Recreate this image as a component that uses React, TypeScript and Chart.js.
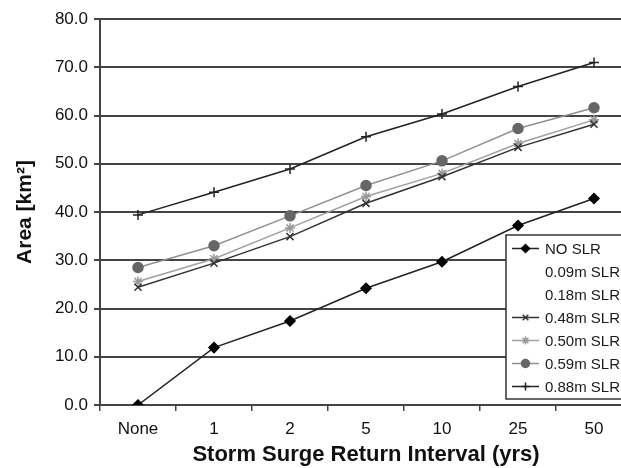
import React, { useEffect, useRef } from 'react';
import { Chart, registerables } from 'chart.js';
import { drawPoint } from 'chart.js/helpers';

Chart.register(...registerables);

const categories = ['None', '1', '2', '5', '10', '25', '50'];
const noSlr = [0, 11.9, 17.4, 24.2, 29.7, 37.2, 42.8];
const slr009: (number | null)[] = [];
const slr018: (number | null)[] = [];
const slr048 = [24.4, 29.4, 34.9, 41.8, 47.3, 53.4, 58.2];
const slr050 = [25.6, 30.3, 36.7, 43.2, 48.0, 54.2, 59.1];
const slr059 = [28.5, 33.0, 39.2, 45.5, 50.6, 57.3, 61.6];
const slr088 = [39.4, 44.1, 48.9, 55.6, 60.3, 66.0, 71.0];
const seriesLabels = ['NO SLR', '0.09m SLR', '0.18m SLR', '0.48m SLR', '0.50m SLR', '0.59m SLR', '0.88m SLR'];
const yMin = 0;
const yMax = 80;
const yStep = 10;

const FONT = "'Liberation Sans', Arial, sans-serif";

const legendPlugin = {
  id: 'boxLegend',
  afterDraw(chart: any) {
    const { ctx, chartArea } = chart;
    const x0 = chartArea.left + 406;
    const y0 = chartArea.bottom - 170;
    const w = 160;
    const h = 164;
    ctx.save();
    ctx.fillStyle = '#ffffff';
    ctx.fillRect(x0, y0, w, h);
    ctx.strokeStyle = '#333333';
    ctx.lineWidth = 1.5;
    ctx.strokeRect(x0, y0, w, h);
    chart.data.datasets.forEach((ds: any, i: number) => {
      const y = y0 + 13.5 + i * 23;
      if (!ds.legendHidden) {
        ctx.strokeStyle = ds.borderColor;
        ctx.lineWidth = ds.borderWidth;
        ctx.beginPath();
        ctx.moveTo(x0 + 6, y);
        ctx.lineTo(x0 + 33, y);
        ctx.stroke();
        ctx.fillStyle = ds.pointBackgroundColor;
        ctx.strokeStyle = ds.pointBorderColor;
        ctx.lineWidth = ds.pointBorderWidth;
        drawPoint(ctx, { pointStyle: ds.pointStyle, rotation: 0, radius: ds.pointRadius * 0.8, borderWidth: ds.pointBorderWidth }, x0 + 19.5, y);
      }
      ctx.fillStyle = '#1a1a1a';
      ctx.font = `15px ${FONT}`;
      ctx.textAlign = 'left';
      ctx.textBaseline = 'middle';
      ctx.fillText(ds.label, x0 + 39, y + 1);
    });
    ctx.restore();
  },
};

function mk(label: string, data: (number | null)[], line: string, pfill: string, pborder: string, style: string, r: number, hidden = false) {
  return {
    label,
    data,
    borderColor: line,
    borderWidth: 1.5,
    pointStyle: style,
    pointRadius: r,
    pointBackgroundColor: pfill,
    pointBorderColor: pborder,
    pointBorderWidth: 1.5,
    tension: 0,
    legendHidden: hidden,
  } as any;
}

export default function App() {
  const ref = useRef<HTMLCanvasElement | null>(null);
  useEffect(() => {
    document.body.style.overflow = 'hidden';
    const chart = new Chart(ref.current as HTMLCanvasElement, {
      type: 'line',
      data: {
        labels: categories,
        datasets: [
          mk(seriesLabels[0], noSlr, '#222222', '#000000', '#000000', 'rectRot', 5),
          mk(seriesLabels[1], slr009, 'rgba(0,0,0,0)', 'rgba(0,0,0,0)', 'rgba(0,0,0,0)', 'circle', 0, true),
          mk(seriesLabels[2], slr018, 'rgba(0,0,0,0)', 'rgba(0,0,0,0)', 'rgba(0,0,0,0)', 'circle', 0, true),
          mk(seriesLabels[3], slr048, '#333333', '#333333', '#333333', 'crossRot', 5),
          mk(seriesLabels[4], slr050, '#a0a0a0', '#999999', '#999999', 'star', 5),
          mk(seriesLabels[5], slr059, '#909090', '#666666', '#666666', 'circle', 5),
          mk(seriesLabels[6], slr088, '#222222', '#222222', '#222222', 'cross', 5),
        ],
      },
      options: {
        animation: false,
        responsive: false,
        maintainAspectRatio: false,
        layout: { padding: { top: 19, left: 0, right: 28, bottom: 0 } },
        plugins: { legend: { display: false }, tooltip: { enabled: false } },
        scales: {
          x: {
            offset: true,
            grid: { offset: true, display: true, drawOnChartArea: false, drawTicks: true, tickLength: 6, color: '#444444', lineWidth: 1.5 },
            border: { color: '#444444', width: 2 },
            ticks: { color: '#111111', font: { family: FONT, size: 17 }, padding: 8, maxRotation: 0 },
            title: { display: true, text: 'Storm Surge Return Interval (yrs)', color: '#111111', font: { family: FONT, size: 22, weight: 'bold' }, padding: { top: 0, bottom: 0 } },
            afterFit: (s: any) => { s.height = 63; },
          },
          y: {
            min: yMin,
            max: yMax,
            grid: { color: '#444444', lineWidth: 2, drawTicks: true, tickLength: 6 },
            border: { color: '#444444', width: 2 },
            ticks: { stepSize: yStep, color: '#111111', font: { family: FONT, size: 17 }, padding: 6, callback: (v: any) => Number(v).toFixed(1) },
            title: { display: true, text: 'Area [km²]', color: '#111111', font: { family: FONT, size: 21, weight: 'bold' }, padding: { top: 13, bottom: 0 } },
            afterFit: (s: any) => { s.width = 100; },
          },
        },
      },
      plugins: [legendPlugin],
    });
    return () => chart.destroy();
  }, []);
  return (
    <div style={{ position: 'fixed', left: 0, top: 0, width: 660, height: 468, background: '#fff' }}>
      <canvas ref={ref} width={660} height={468} style={{ width: 660, height: 468 }} />
    </div>
  );
}
